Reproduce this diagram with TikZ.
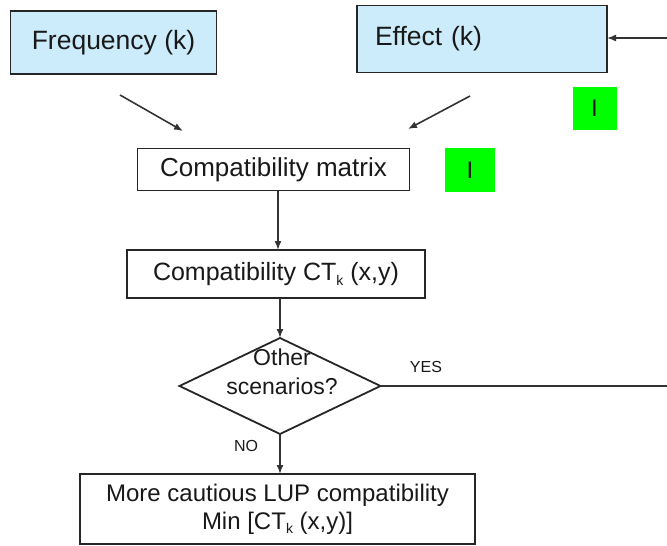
\documentclass[tikz,border=0pt]{standalone}
\usepackage{fontspec}
\setmainfont{Liberation Sans}
\usetikzlibrary{arrows.meta,shapes.geometric}
\newcommand{\subk}{\raisebox{-0.35ex}{\fontsize{14}{14}\selectfont k}}
\begin{document}
\begin{tikzpicture}[x=1pt,y=-1pt,
  every node/.style={inner sep=0pt,outer sep=0pt,text=black!90},
  box/.style={draw=black!85,line width=1.8pt,rectangle,align=center},
  bluebox/.style={box,fill=blueboxfill},
  greenbox/.style={fill=greenfill,minimum width=44pt,minimum height=43pt,font=\fontsize{24}{24}\selectfont},
  conn/.style={line width=1.6pt,draw=black!80},
  arr/.style={conn,-{Latex[length=9pt,width=7pt]}},
  lbl/.style={font=\fontsize{16}{16}\selectfont}]
\definecolor{blueboxfill}{HTML}{CCECFB}
\definecolor{greenfill}{HTML}{00FF00}
\useasboundingbox (0,0) rectangle (667,546);
\fill[white] (0,0) rectangle (667,546);

% top boxes
\node[bluebox,minimum width=206pt,minimum height=63pt,font=\fontsize{26.5}{26}\selectfont] (freq) at (113.5,42.5) {Frequency (k)};
\node[bluebox,minimum width=250pt,minimum height=67pt,text width=214pt,align=left,inner xsep=18pt,font=\fontsize{26.5}{26}\selectfont] (eff) at (482,39) {Effect (k)};
\node[greenbox] (g1) at (594.5,108.5) {I};

% feedback arrow into Effect
\coordinate (fbin) at (667,38);
\draw[arr] (fbin) -- (eff.east |- fbin);

% diagonal arrows
\coordinate (fa1) at (120,95);
\coordinate (fa2) at (183,131);
\coordinate (ea1) at (470,96);
\coordinate (ea2) at (408,129);
\draw[arr] (fa1) -- (fa2);
\draw[arr] (ea1) -- (ea2);

% compatibility matrix
\node[box,minimum width=272pt,minimum height=42pt,font=\fontsize{26}{26}\selectfont] (cm) at (273.5,169.5) {Compatibility matrix};
\node[greenbox,minimum width=50pt,minimum height=44pt] (g2) at (470,170) {I};

% compatibility CT
\node[box,minimum width=298pt,minimum height=48pt,font=\fontsize{25}{25}\selectfont] (ct) at (276,274) {Compatibility CT\subk{} (x,y)};

\draw[arr] (cm.south -| 278,0) -- (ct.north -| 278,0);

% decision
\node[draw=black!85,line width=1.8pt,diamond,minimum width=201pt,minimum height=96pt] (dec) at (280,386) {};
\node[align=center,font=\fontsize{23}{29}\selectfont] (dectext) at (282,372) {Other\\scenarios?};

\draw[arr] (ct.south -| dec.north) -- (dec.north);

% YES line
\coordinate (yesend) at (667,386);
\draw[conn] (dec.east) -- (yesend);
\node[lbl] (yes) at (426,367) {YES};

% bottom box
\node[box,minimum width=395pt,minimum height=70pt,font=\fontsize{24}{28}\selectfont] (res) at (277.5,509) {More cautious LUP compatibility\\Min [CT\subk{} (x,y)]};

\draw[arr] (dec.south) -- (res.north -| dec.south);
\node[lbl] (no) at (246,446) {NO};
\end{tikzpicture}
\end{document}
